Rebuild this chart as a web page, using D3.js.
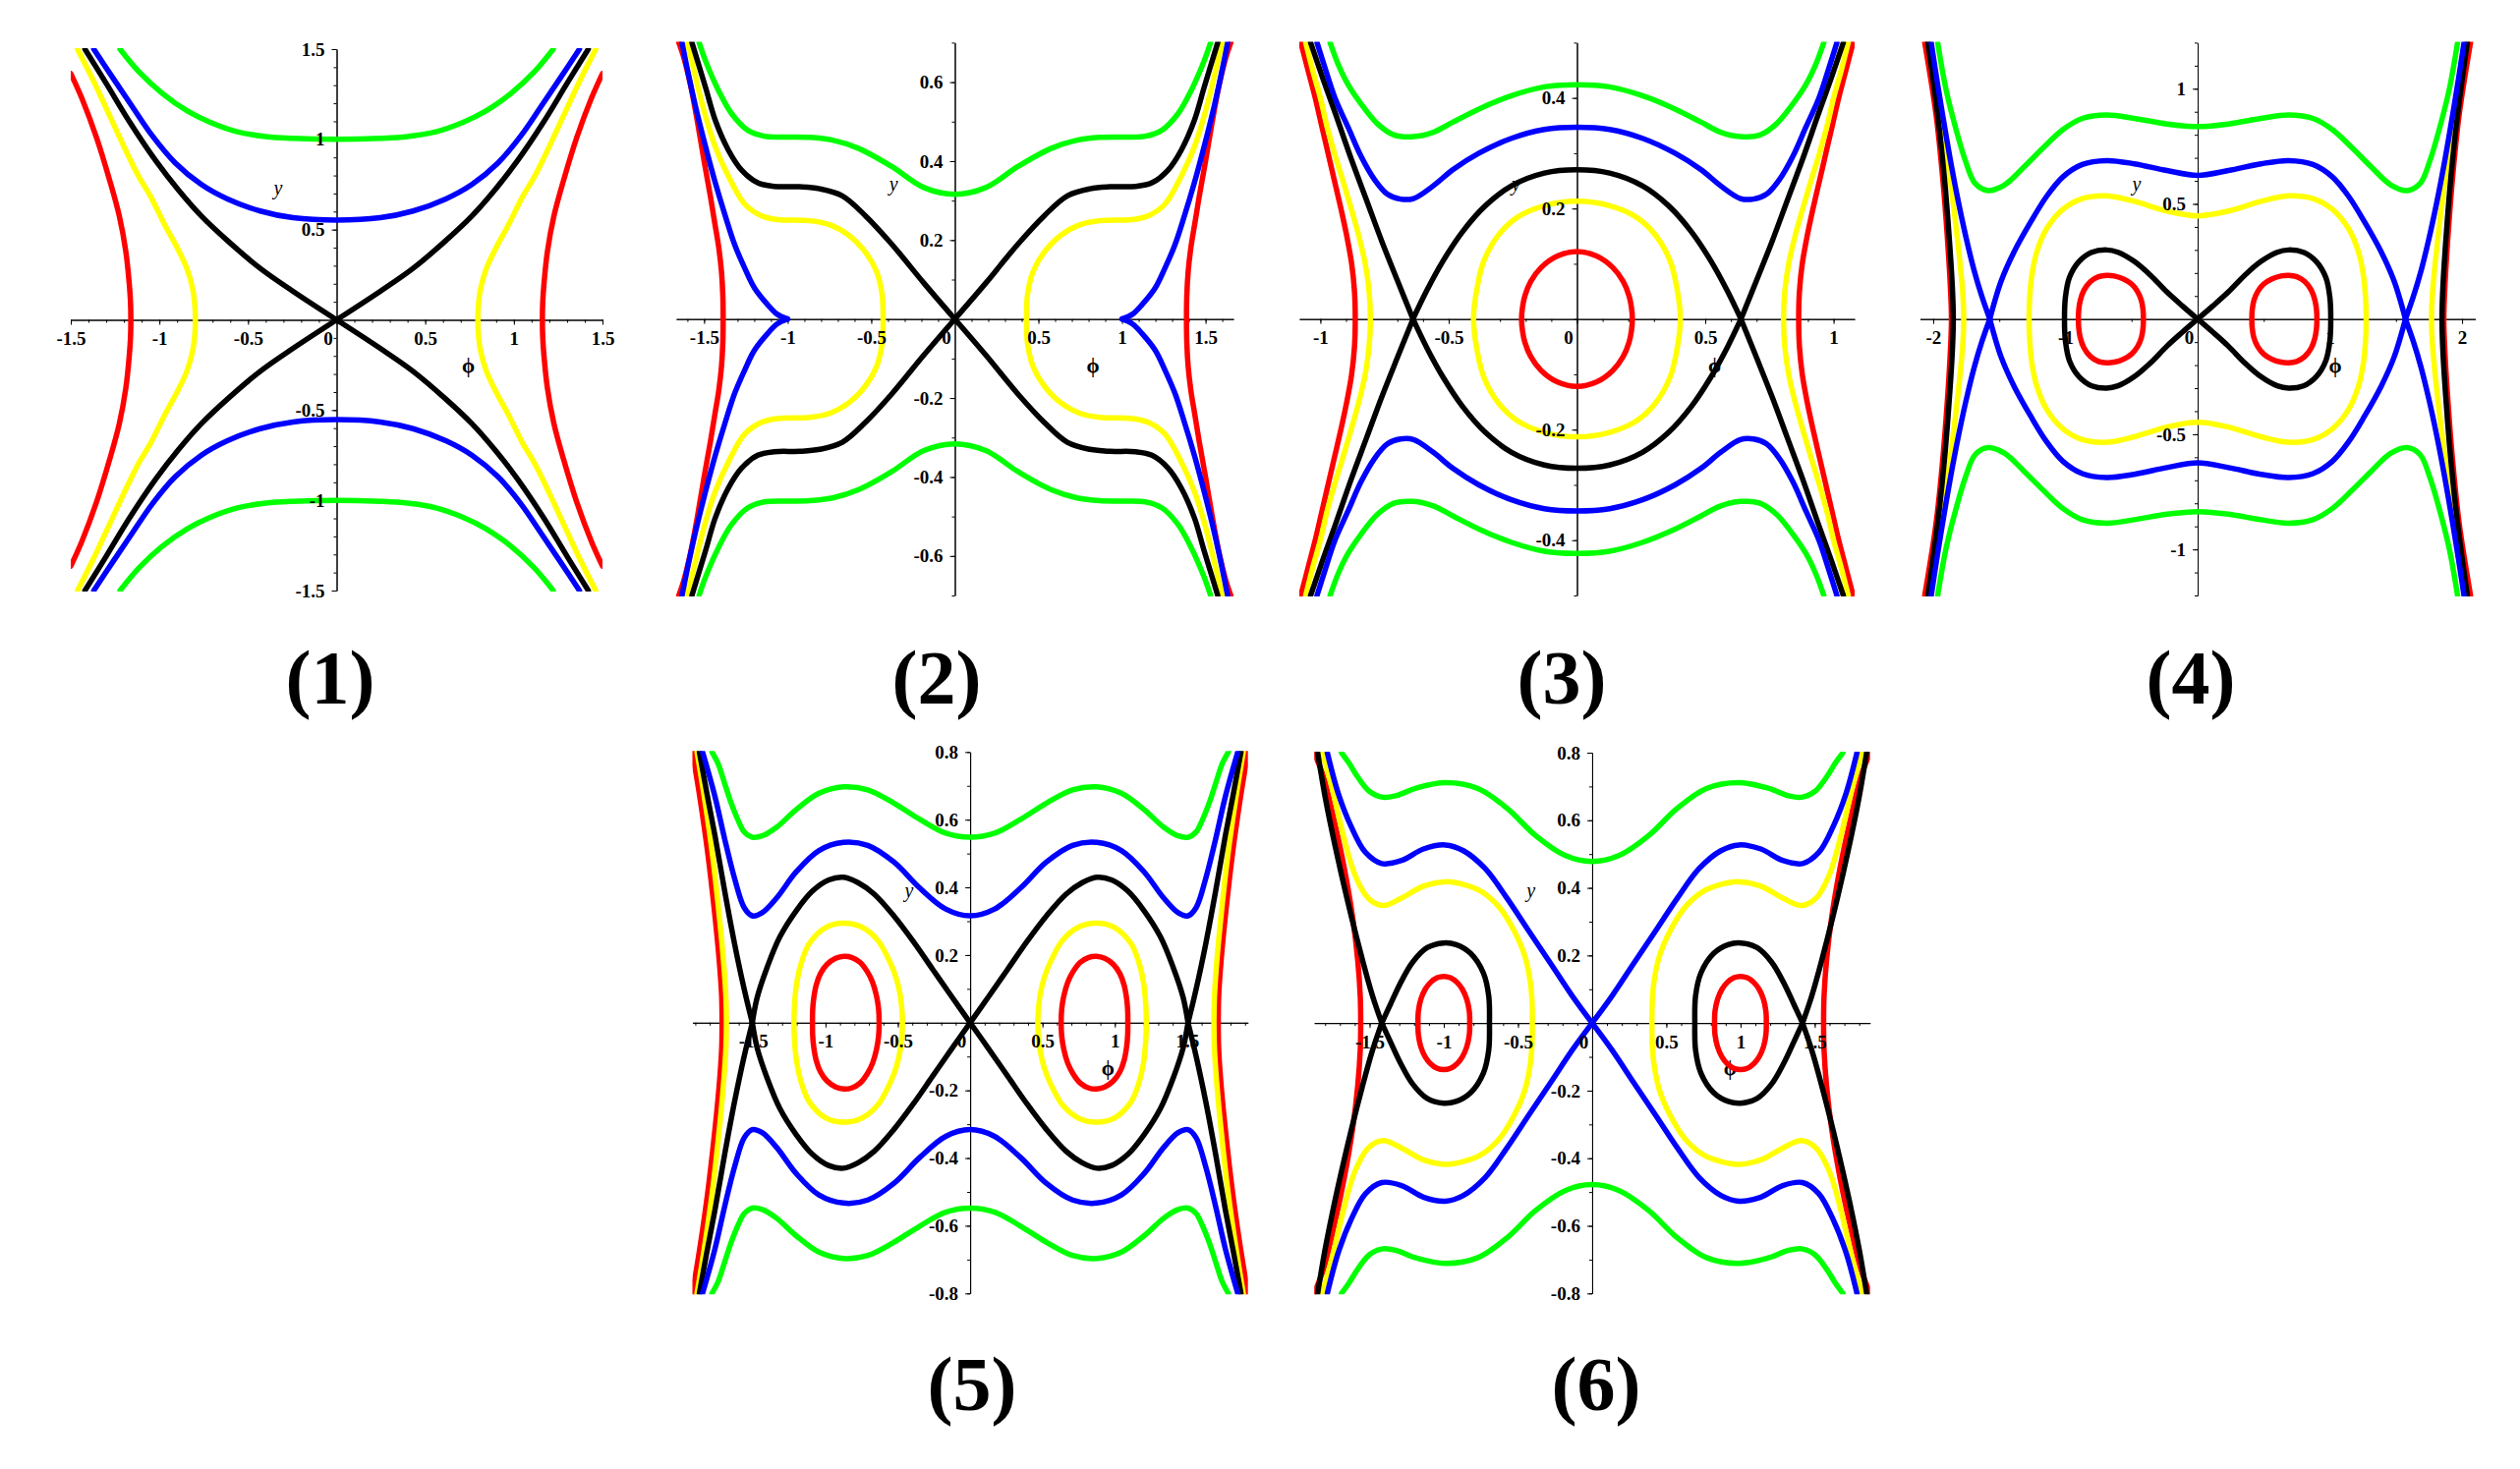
<!DOCTYPE html>
<html>
<head>
<meta charset="utf-8">
<script src="https://cdn.jsdelivr.net/npm/d3@7"></script>
<style>
body { margin: 0; background: #fff; }
svg text { font-family: "Liberation Serif", "Times New Roman", serif; }
</style>
</head>
<body>
<div id="svgDiv"></div>
<script>
// level curves, quadrant phi >= 0, y >= 0 only
// (every portrait is symmetric in phi and in y)

// panel 1
var p1Red = [[1.161,0],[1.163,0.1],[1.17,0.2],[1.189,0.376],[1.226,0.575],[1.281,0.775],[1.355,1.011],[1.438,1.229],[1.5,1.365]];
var p1Yellow = [[0.797,0],[0.8,0.08],[0.812,0.17],[0.845,0.285],[0.9,0.4],[0.967,0.521],[1.05,0.684],[1.12,0.8],[1.2,0.96],[1.28,1.13],[1.37,1.32],[1.462,1.5]];
var p1Black = [[0,0],[0.246,0.158],[0.431,0.285],[0.616,0.439],[0.763,0.575],[0.893,0.72],[1.022,0.884],[1.17,1.1],[1.3,1.31],[1.42,1.5]];
var p1Blue = [[0,0.553],[0.246,0.566],[0.431,0.603],[0.616,0.67],[0.763,0.75],[0.911,0.87],[1.04,1.02],[1.152,1.18],[1.262,1.34],[1.37,1.5]];
var p1Green = [[0,1.0],[0.25,1.006],[0.4,1.016],[0.56,1.042],[0.71,1.093],[0.84,1.156],[0.985,1.256],[1.115,1.374],[1.222,1.5]];

// panel 2
var p2Red = [[1.386,0],[1.388,0.06],[1.396,0.12],[1.412,0.18],[1.435,0.24],[1.462,0.31],[1.5,0.4],[1.54,0.5],[1.58,0.59],[1.62,0.66],[1.651,0.7]];
var p2Yellow = [[0.429,0],[0.435,0.062],[0.468,0.12],[0.536,0.17],[0.634,0.212],[0.75,0.239],[0.867,0.249],[1.062,0.252],[1.16,0.262],[1.257,0.291],[1.355,0.362],[1.433,0.436],[1.501,0.528],[1.55,0.611],[1.6,0.7]];
var p2Black = [[0,0],[0.185,0.091],[0.38,0.191],[0.536,0.262],[0.673,0.312],[0.809,0.33],[0.926,0.335],[1.082,0.336],[1.179,0.345],[1.277,0.378],[1.355,0.428],[1.433,0.503],[1.491,0.586],[1.573,0.7]];
var p2Blue = [[1.0,0],[1.062,0.012],[1.121,0.037],[1.199,0.079],[1.257,0.129],[1.316,0.187],[1.374,0.262],[1.433,0.345],[1.491,0.436],[1.55,0.536],[1.598,0.628],[1.632,0.7]];
var p2Green = [[0,0.316],[0.185,0.333],[0.38,0.387],[0.575,0.432],[0.731,0.453],[0.867,0.46],[1.0,0.461],[1.14,0.463],[1.238,0.478],[1.335,0.52],[1.413,0.578],[1.491,0.653],[1.53,0.7]];

// panel 3
var p3RedIn = [[0,0.122],[0.076,0.114],[0.14,0.093],[0.18,0.068],[0.203,0.042],[0.212,0.022],[0.216,0]];
var p3RedOut = [[0.864,0],[0.867,0.05],[0.878,0.1],[0.897,0.15],[0.92,0.2],[0.945,0.25],[0.97,0.3],[0.995,0.35],[1.02,0.4],[1.048,0.45],[1.076,0.5]];
var p3YellowIn = [[0,0.213],[0.127,0.205],[0.229,0.185],[0.306,0.152],[0.363,0.105],[0.389,0.057],[0.403,0]];
var p3YellowOut = [[0.805,0],[0.81,0.05],[0.825,0.1],[0.85,0.15],[0.88,0.2],[0.912,0.25],[0.945,0.3],[0.975,0.35],[1.0,0.4],[1.03,0.45],[1.057,0.5]];
var p3BlackIn = [[0,0.27],[0.127,0.264],[0.255,0.241],[0.357,0.205],[0.446,0.158],[0.522,0.105],[0.586,0.051],[0.639,0]];
var p3BlackOut = [[0.639,0],[0.7,0.07],[0.76,0.14],[0.82,0.215],[0.88,0.29],[0.94,0.37],[0.99,0.435],[1.038,0.5]];
var p3Blue = [[0,0.347],[0.127,0.343],[0.255,0.327],[0.382,0.3],[0.484,0.27],[0.56,0.241],[0.637,0.218],[0.688,0.217],[0.739,0.226],[0.79,0.253],[0.841,0.294],[0.892,0.347],[0.943,0.4],[0.981,0.453],[1.013,0.5]];
var p3Green = [[0,0.424],[0.127,0.42],[0.255,0.404],[0.382,0.38],[0.484,0.356],[0.56,0.338],[0.637,0.33],[0.713,0.333],[0.777,0.353],[0.841,0.389],[0.892,0.424],[0.93,0.46],[0.962,0.5]];

// panel 4
var p4RedIn = [[0.41,0],[0.413,0.04],[0.425,0.08],[0.455,0.12],[0.5,0.152],[0.56,0.174],[0.63,0.187],[0.688,0.19],[0.75,0.184],[0.81,0.163],[0.86,0.125],[0.888,0.08],[0.899,0.04],[0.902,0]];
var p4RedOut = [[1.862,0],[1.87,0.137],[1.894,0.363],[1.929,0.617],[1.978,0.886],[2.064,1.2]];
var p4BlackIn = [[1.007,0],[1.0,0.095],[0.97,0.18],[0.897,0.25],[0.8,0.29],[0.688,0.3],[0.602,0.29],[0.479,0.25],[0.356,0.19],[0.233,0.118],[0.115,0.057],[0,0]];
var p4BlackOut = [[1.848,0],[1.855,0.137],[1.88,0.363],[1.916,0.617],[1.966,0.886],[2.04,1.2]];
var p4YellowIn = [[0,0.448],[0.233,0.469],[0.479,0.511],[0.688,0.535],[0.872,0.523],[1.02,0.476],[1.143,0.391],[1.216,0.292],[1.253,0.194],[1.27,0.095],[1.275,0]];
var p4YellowOut = [[1.769,0],[1.776,0.109],[1.806,0.292],[1.855,0.532],[1.916,0.787],[1.966,0.984],[2.027,1.2]];
var p4BlueIn = [[0,0.624],[0.233,0.645],[0.479,0.674],[0.688,0.688],[0.872,0.671],[1.02,0.617],[1.143,0.532],[1.265,0.419],[1.388,0.292],[1.486,0.165],[1.572,0]];
var p4BlueOut = [[1.572,0],[1.63,0.095],[1.69,0.21],[1.75,0.35],[1.81,0.51],[1.87,0.69],[1.93,0.89],[1.975,1.05],[2.015,1.2]];
var p4Green = [[0,0.836],[0.233,0.847],[0.479,0.871],[0.688,0.886],[0.872,0.871],[1.02,0.822],[1.167,0.744],[1.314,0.66],[1.462,0.582],[1.585,0.558],[1.683,0.589],[1.757,0.688],[1.83,0.829],[1.904,0.999],[1.966,1.2]];

// panel 5
var p5RedIn = [[0.629,0],[0.633,0.04],[0.648,0.08],[0.675,0.12],[0.71,0.15],[0.76,0.178],[0.82,0.193],[0.872,0.196],[0.93,0.19],[0.99,0.172],[1.035,0.145],[1.065,0.11],[1.082,0.07],[1.089,0.035],[1.09,0]];
var p5RedOut = [[1.715,0],[1.718,0.08],[1.735,0.186],[1.768,0.331],[1.812,0.495],[1.866,0.659],[1.92,0.8]];
var p5YellowIn = [[0.468,0],[0.472,0.04],[0.485,0.085],[0.51,0.13],[0.551,0.176],[0.64,0.244],[0.753,0.283],[0.876,0.294],[1.0,0.281],[1.112,0.234],[1.165,0.18],[1.198,0.12],[1.213,0.06],[1.218,0]];
var p5YellowOut = [[1.685,0],[1.689,0.08],[1.706,0.186],[1.738,0.331],[1.781,0.495],[1.835,0.659],[1.888,0.8]];
var p5BlackIn = [[0,0],[0.124,0.075],[0.258,0.157],[0.393,0.24],[0.528,0.316],[0.663,0.38],[0.775,0.414],[0.876,0.43],[0.978,0.422],[1.09,0.389],[1.202,0.331],[1.315,0.254],[1.404,0.163],[1.472,0.075],[1.506,0]];
var p5BlackOut = [[1.506,0],[1.562,0.099],[1.629,0.234],[1.697,0.389],[1.764,0.553],[1.82,0.678],[1.872,0.8]];
var p5Blue = [[0,0.316],[0.169,0.336],[0.348,0.398],[0.528,0.475],[0.708,0.524],[0.876,0.533],[1.045,0.509],[1.202,0.446],[1.337,0.369],[1.438,0.325],[1.506,0.316],[1.562,0.34],[1.629,0.427],[1.697,0.543],[1.764,0.668],[1.85,0.8]];
var p5Green = [[0,0.548],[0.169,0.56],[0.348,0.601],[0.528,0.649],[0.708,0.688],[0.876,0.697],[1.045,0.678],[1.202,0.63],[1.337,0.578],[1.438,0.552],[1.506,0.548],[1.562,0.564],[1.607,0.601],[1.652,0.649],[1.697,0.707],[1.742,0.765],[1.785,0.8]];

// panel 6
var p6RedIn = [[0.825,0],[0.828,0.035],[0.845,0.07],[0.875,0.1],[0.91,0.12],[0.955,0.134],[1.0,0.138],[1.045,0.134],[1.09,0.12],[1.125,0.1],[1.155,0.07],[1.171,0.035],[1.174,0]];
var p6RedOut = [[1.56,0],[1.563,0.08],[1.58,0.186],[1.614,0.312],[1.67,0.457],[1.74,0.602],[1.81,0.728],[1.875,0.8]];
var p6Yellow = [[0.403,0],[0.405,0.06],[0.416,0.119],[0.452,0.196],[0.526,0.273],[0.623,0.341],[0.746,0.389],[0.868,0.41],[0.99,0.418],[1.137,0.405],[1.284,0.37],[1.41,0.348],[1.51,0.37],[1.6,0.44],[1.68,0.56],[1.75,0.69],[1.82,0.8]];
var p6BlackIn = [[0.692,0],[0.697,0.08],[0.733,0.148],[0.819,0.206],[0.917,0.232],[1.002,0.237],[1.112,0.223],[1.21,0.18],[1.29,0.12],[1.36,0.055],[1.418,0]];
var p6BlackOut = [[1.418,0],[1.48,0.08],[1.55,0.19],[1.62,0.31],[1.69,0.44],[1.75,0.56],[1.8,0.67],[1.85,0.8]];
var p6Blue = [[0,0],[0.134,0.08],[0.281,0.177],[0.428,0.273],[0.575,0.37],[0.721,0.457],[0.868,0.51],[0.99,0.527],[1.137,0.515],[1.284,0.481],[1.418,0.472],[1.528,0.505],[1.626,0.583],[1.711,0.679],[1.785,0.8]];
var p6Green = [[0,0.478],[0.183,0.496],[0.379,0.554],[0.575,0.636],[0.77,0.694],[0.99,0.711],[1.186,0.695],[1.32,0.673],[1.41,0.668],[1.5,0.685],[1.58,0.728],[1.64,0.77],[1.69,0.8]];

// tick labels
var ticks15 = [-1.5, -1, -0.5, 0, 0.5, 1, 1.5];
var p1YTicks = [-1.5, -1, -0.5, 0.5, 1, 1.5];
var p2YTicks = [-0.6, -0.4, -0.2, 0.2, 0.4, 0.6];
var p3XTicks = [-1, -0.5, 0, 0.5, 1];
var p3YTicks = [-0.4, -0.2, 0.2, 0.4];
var p4XTicks = [-2, -1, 0, 1, 2];
var p4YTicks = [-1, -0.5, 0.5, 1];
var p56YTicks = [-0.8, -0.6, -0.4, -0.2, 0.2, 0.4, 0.6, 0.8];
var panelNames = ["(1)", "(2)", "(3)", "(4)", "(5)", "(6)"];

var RED = "#ff0000", YEL = "#ffff00", BLK = "#000000", BLU = "#0000ff", GRN = "#00ff00";

// layout of the six portraits
var panels = [
  { box: [72, 613, 50, 601], xDom: [-1.5, 1.5], yDom: [-1.5, 1.5], xT: ticks15, yT: p1YTicks, xStep: 0.1, yStep: 0.1, lab: [336, 716],
    curves: [[p1Red, RED, "branch"], [p1Yellow, YEL, "branch"], [p1Black, BLK, "cusp"], [p1Blue, BLU, "open"], [p1Green, GRN, "open"]] },
  { box: [688, 1255, 43.4, 606], xDom: [-1.667, 1.667], yDom: [-0.7, 0.7], xT: ticks15, yT: p2YTicks, xStep: 0.1, yStep: 0.1, lab: [953, 716],
    curves: [[p2Red, RED, "branch"], [p2Yellow, YEL, "branch"], [p2Black, BLK, "cusp"], [p2Blue, BLU, "cusp"], [p2Green, GRN, "open"]] },
  { box: [1322, 1887, 43.4, 606], xDom: [-1.082, 1.082], yDom: [-0.5, 0.5], xT: p3XTicks, yT: p3YTicks, xStep: 0.1, yStep: 0.1, lab: [1589, 716],
    curves: [[p3RedIn, RED, "loop0"], [p3RedOut, RED, "branch"], [p3YellowIn, YEL, "loop0"], [p3YellowOut, YEL, "branch"],
             [p3BlackIn, BLK, "open"], [p3BlackOut, BLK, "cusp"], [p3Blue, BLU, "open"], [p3Green, GRN, "open"]] },
  { box: [1953.5, 2518.5, 43.4, 606], xDom: [-2.1, 2.1], yDom: [-1.2, 1.2], xT: p4XTicks, yT: p4YTicks, xStep: 0.5, yStep: 0.1, lab: [2229, 716],
    curves: [[p4RedIn, RED, "loop"], [p4RedOut, RED, "branch"], [p4YellowIn, YEL, "loop0"], [p4YellowOut, YEL, "branch"],
             [p4BlackIn, BLK, "branch"], [p4BlackOut, BLK, "branch"], [p4BlueIn, BLU, "open"], [p4BlueOut, BLU, "cusp"], [p4Green, GRN, "open"]] },
  { box: [704.5, 1269.7, 765.3, 1316.3], xDom: [-1.92, 1.92], yDom: [-0.8, 0.8], xT: ticks15, yT: p56YTicks, xStep: 0.1, yStep: 0.1, lab: [989, 1435],
    curves: [[p5RedIn, RED, "loop"], [p5RedOut, RED, "branch"], [p5YellowIn, YEL, "loop"], [p5YellowOut, YEL, "branch"],
             [p5BlackIn, BLK, "cusp"], [p5BlackOut, BLK, "cusp"], [p5Blue, BLU, "open"], [p5Green, GRN, "open"]] },
  { box: [1337.2, 1902.7, 766, 1316.3], xDom: [-1.873, 1.873], yDom: [-0.8, 0.8], xT: ticks15, yT: p56YTicks, xStep: 0.1, yStep: 0.1, lab: [1624, 1435],
    curves: [[p6RedIn, RED, "loop"], [p6RedOut, RED, "branch"], [p6Yellow, YEL, "branch"], [p6BlackIn, BLK, "branch"],
             [p6BlackOut, BLK, "cusp"], [p6Blue, BLU, "cusp"], [p6Green, GRN, "open"]] }
];

var svg = d3.select("#svgDiv").append("svg")
    .attr("width", 2564)
    .attr("height", 1495);

panels.forEach(function(p, i){ drawPanel(p, i); });

// turns quadrant points into the pieces of the full curve
function pieces(pts, mode){
    var refl = pts.map(function(d){ return [-d[0], d[1]]; });
    var halves;
    if(mode == "open" || mode == "loop0")
        halves = [refl.slice().reverse().concat(pts.slice(1))];
    else
        halves = [pts, refl];

    var out = [];
    halves.forEach(function(u){
        var low = u.map(function(d){ return [d[0], -d[1]]; });
        if(mode == "branch")
            out.push({ pts: low.slice().reverse().concat(u.slice(1)), closed: false });
        else if(mode == "loop" || mode == "loop0")
            out.push({ pts: u.concat(low.slice(1, -1).reverse()), closed: true });
        else {
            out.push({ pts: u, closed: false });
            out.push({ pts: low, closed: false });
        }
    });
    return out;
}

function stepTicks(dom, step){
    var a = Math.ceil(dom[0] / step - 1e-6), b = Math.floor(dom[1] / step + 1e-6);
    return d3.range(a, b + 1).map(function(k){ return +(k * step).toFixed(3); });
}

function drawPanel(p, i){
    var x = d3.scaleLinear().domain(p.xDom).range([p.box[0], p.box[1]]);
    var y = d3.scaleLinear().domain(p.yDom).range([p.box[3], p.box[2]]);
    var w = p.box[1] - p.box[0], h = p.box[3] - p.box[2];
    var g = svg.append("g");
    var fmt = function(d){ return String(d); };

    g.append("clipPath").attr("id", "clip" + i)
        .append("rect")
        .attr("x", p.box[0]).attr("y", p.box[2] - 1)
        .attr("width", w).attr("height", h + 2);

    // axis lines and ticks
    var ax = g.append("g").attr("transform", "translate(0," + y(0) + ")");
    ax.call(d3.axisBottom(x).tickValues(stepTicks(p.xDom, p.xStep)).tickSize(3).tickSizeOuter(0).tickFormat(""));
    ax.append("g").call(d3.axisBottom(x).tickValues(p.xT).tickSize(5).tickSizeOuter(0).tickFormat(""));
    var ay = g.append("g").attr("transform", "translate(" + x(0) + ",0)");
    ay.call(d3.axisLeft(y).tickValues(stepTicks(p.yDom, p.yStep)).tickSize(3).tickSizeOuter(0).tickFormat(""));
    ay.append("g").call(d3.axisLeft(y).tickValues(p.yT).tickSize(5).tickSizeOuter(0).tickFormat(""));
    g.selectAll(".domain, .tick line").attr("stroke", "#000").attr("stroke-width", 1);

    // axis names
    g.append("text")
        .attr("x", p.box[0] + 0.39 * w).attr("y", p.box[2] + 0.255 * h)
        .attr("dy", "0.35em").attr("text-anchor", "middle")
        .style("font-size", "20px").style("font-style", "italic")
        .text("y");
    g.append("text")
        .attr("x", p.box[0] + 0.748 * w).attr("y", p.box[2] + 0.583 * h)
        .attr("dy", "0.35em").attr("text-anchor", "middle")
        .style("font-size", "21px").style("font-weight", "bold")
        .text("\u03d5");

    // level curves
    var line = d3.line()
        .x(function(d){ return x(d[0]); })
        .y(function(d){ return y(d[1]); });
    var cg = g.append("g").attr("clip-path", "url(#clip" + i + ")");
    p.curves.forEach(function(c){
        pieces(c[0], c[2]).forEach(function(piece){
            line.curve(piece.closed ? d3.curveCatmullRomClosed.alpha(0.5) : d3.curveCatmullRom.alpha(0.5));
            cg.append("path")
                .attr("d", line(piece.pts))
                .attr("fill", "none")
                .attr("stroke", c[1])
                .attr("stroke-width", 5.5)
                .attr("stroke-linecap", "round")
                .attr("stroke-linejoin", "round");
        });
    });

    // tick labels on top
    var lx = g.append("g").attr("transform", "translate(0," + y(0) + ")")
        .call(d3.axisBottom(x).tickValues(p.xT).tickSize(5).tickPadding(7).tickFormat(fmt));
    var ly = g.append("g").attr("transform", "translate(" + x(0) + ",0)")
        .call(d3.axisLeft(y).tickValues(p.yT).tickSize(5).tickPadding(7).tickFormat(fmt));
    [lx, ly].forEach(function(a){
        a.selectAll(".domain, .tick line").remove();
        a.attr("font-family", null).attr("font-size", null);
        a.selectAll("text")
            .attr("fill", "#000")
            .style("font-size", "19px")
            .style("font-weight", "bold");
    });
    lx.selectAll(".tick").filter(function(d){ return d == 0; })
        .select("text").attr("x", -9);

    // panel number
    svg.append("text")
        .attr("x", p.lab[0]).attr("y", p.lab[1])
        .attr("text-anchor", "middle")
        .style("font-size", "78px")
        .style("font-weight", "bold")
        .text(panelNames[i]);
}
</script>
</body>
</html>
